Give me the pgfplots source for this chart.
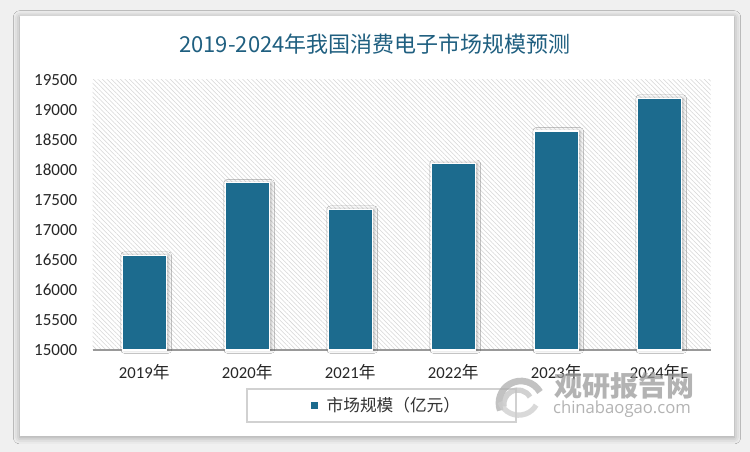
\documentclass[border=0pt]{standalone}
\usepackage{pgfplots}
\pgfplotsset{compat=1.18}
\usepackage{fontspec}
\setmainfont{Carlito}
\newfontfamily\cjk{Noto Sans CJK SC}
\newfontfamily\fira{Open Sans}
\usetikzlibrary{patterns.meta,shadows.blur}
\definecolor{barblue}{HTML}{1C6B8E}
\definecolor{titleblue}{HTML}{1F5F80}
\definecolor{wmgray}{HTML}{9A9A9A}
\begin{document}
\begin{tikzpicture}[x=0.75pt,y=0.75pt]
\fill[black!6] (0,0) rectangle (750,452);
\fill[white, blur shadow={shadow xshift=0pt, shadow yshift=-1pt, shadow blur radius=5pt, shadow opacity=35}] (20,16) rectangle (734,436);
\node[font=\cjk\fontsize{16.5}{18}\selectfont, text=titleblue] at (375,408) {2019-2024年我国消费电子市场规模预测};
% legend box
\draw[black!18, line width=0.8pt] (247,30) rectangle (516,63);
\fill[barblue] (310.5,43) rectangle (317.5,50);
\node[font=\cjk\fontsize{12.5}{14}\selectfont, text=black!80, anchor=west] at (322,46.5) {市场规模（亿元）};
\begin{axis}[
  at={(90,170)}, anchor=south west, scale only axis,
  width=463.5pt, height=202.5pt,
  xmin=-0.5, xmax=5.5, ymin=15000, ymax=19500,
  ytick={15000,15500,...,19500},
  scaled y ticks=false,
  xtick={0,...,5},
  xticklabels={2019{\cjk 年},2020{\cjk 年},2021{\cjk 年},2022{\cjk 年},2023{\cjk 年},2024{\cjk 年}E},
  axis x line*=bottom, axis y line*=left,
  y axis line style={draw=none},
  x axis line style={draw=black!40, line width=1.1pt, -},
  major tick length=0pt,
  /pgf/number format/assume math mode=true,
  /pgf/number format/1000 sep={},
  yticklabel style={font=\fontsize{12.75}{14}\selectfont, text=black!85, xshift=-8pt},
  xticklabel style={font=\fontsize{12.5}{14}\selectfont, text=black!85, yshift=-7pt},
  axis background/.style={pattern={Lines[angle=-45, distance=2.4pt, line width=0.4pt]}, pattern color=black!16},
  clip=false,
]
\addplot[ybar, bar width=33pt, fill=barblue, draw=white, line width=0.9pt,
  blur shadow={shadow xshift=1.5pt, shadow yshift=0pt, shadow blur radius=2.5pt, shadow opacity=30}]
  coordinates {(0,16580) (1,17785) (2,17345) (3,18110) (4,18650) (5,19195)};
\end{axis}
% watermark
\begin{scope}[opacity=0.75]
\draw[wmgray!80, line width=5pt] (540,60) arc[start angle=30, end angle=200, radius=22];
\draw[wmgray!60, line width=4pt] (530,55) arc[start angle=30, end angle=190, radius=14];
\draw[wmgray!50, line width=4pt] (500,50) arc[start angle=200, end angle=330, radius=20];
\node[font=\cjk\bfseries\fontsize{21}{22}\selectfont, text=wmgray] at (624,66) {观研报告网};
\node[font=\fira\fontsize{12.5}{14}\selectfont, text=wmgray] at (622,43) {chinabaogao.com};
\end{scope}
\end{tikzpicture}
\end{document}
